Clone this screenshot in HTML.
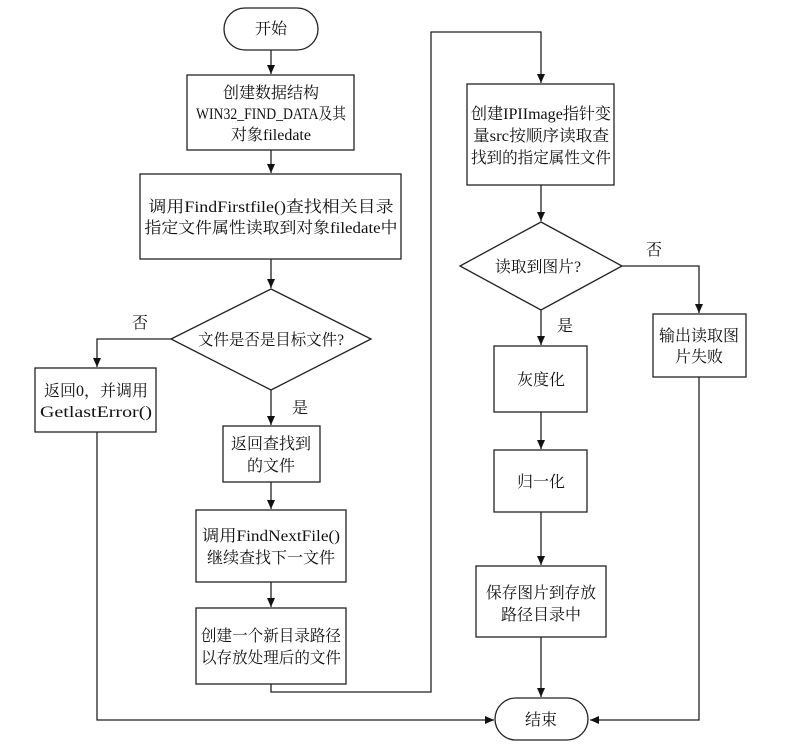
<!DOCTYPE html>
<html><head><meta charset="utf-8"><style>
html,body{margin:0;padding:0;background:#fff;}
svg{display:block;}
text{font-family:"Liberation Serif","Noto Serif CJK SC",serif;font-size:16px;fill:#111;text-anchor:middle;}
.b{fill:#fff;stroke:#222;stroke-width:1.3;}
.l{fill:none;stroke:#222;stroke-width:1.3;}
</style></head><body>
<svg width="793" height="744" viewBox="0 0 793 744" xmlns="http://www.w3.org/2000/svg">
<defs><marker id="a" markerWidth="10" markerHeight="10" refX="9" refY="5" orient="auto" markerUnits="userSpaceOnUse"><path d="M0,1 L9,5 L0,9 Z" fill="#111"/></marker></defs>
<rect class="b" x="224" y="8" width="94" height="42" rx="21"/>
<text x="271" y="34">开始</text>
<line class="l" x1="271" y1="50" x2="271" y2="74" marker-end="url(#a)"/>
<rect class="b" x="187" y="75" width="167" height="75"/>
<text x="271" y="98">创建数据结构</text>
<text x="271" y="119" textLength="150" lengthAdjust="spacingAndGlyphs">WIN32_FIND_DATA及其</text>
<text x="271" y="140">对象filedate</text>
<line class="l" x1="271" y1="150" x2="271" y2="173" marker-end="url(#a)"/>
<rect class="b" x="140" y="174" width="261" height="85"/>
<text x="271" y="212" textLength="245" lengthAdjust="spacingAndGlyphs">调用FindFirstfile()查找相关目录</text>
<text x="271" y="233" textLength="253" lengthAdjust="spacingAndGlyphs">指定文件属性读取到对象filedate中</text>
<line class="l" x1="271" y1="259" x2="271" y2="288" marker-end="url(#a)"/>
<polygon class="b" points="271,289 371,339 271,390 171,339"/>
<text x="271" y="345" textLength="146" lengthAdjust="spacingAndGlyphs">文件是否是目标文件?</text>
<polyline class="l" points="171,339 97,339 97,367" marker-end="url(#a)"/>
<text x="140" y="328">否</text>
<rect class="b" x="35" y="368" width="121" height="64"/>
<text x="96" y="396" textLength="104" lengthAdjust="spacingAndGlyphs">返回0，并调用</text>
<text x="96" y="417" textLength="112" lengthAdjust="spacingAndGlyphs">GetlastError()</text>
<line class="l" x1="271" y1="390" x2="271" y2="425" marker-end="url(#a)"/>
<text x="300" y="413">是</text>
<rect class="b" x="223" y="426" width="97" height="56"/>
<text x="271" y="449">返回查找到</text>
<text x="271" y="471">的文件</text>
<line class="l" x1="271" y1="482" x2="271" y2="509" marker-end="url(#a)"/>
<rect class="b" x="196" y="510" width="150" height="72"/>
<text x="271" y="541" textLength="138" lengthAdjust="spacingAndGlyphs">调用FindNextFile()</text>
<text x="271" y="563">继续查找下一文件</text>
<line class="l" x1="271" y1="582" x2="271" y2="607" marker-end="url(#a)"/>
<rect class="b" x="196" y="608" width="150" height="76"/>
<text x="271" y="641" textLength="140" lengthAdjust="spacingAndGlyphs">创建一个新目录路径</text>
<text x="271" y="663" textLength="140" lengthAdjust="spacingAndGlyphs">以存放处理后的文件</text>
<polyline class="l" points="271,684 271,692 431,692 431,32 541,32 541,83" marker-end="url(#a)"/>
<rect class="b" x="467" y="84" width="147" height="101"/>
<text x="541" y="119" textLength="140" lengthAdjust="spacingAndGlyphs">创建IPIImage指针变</text>
<text x="541" y="141" textLength="136" lengthAdjust="spacingAndGlyphs">量src按顺序读取查</text>
<text x="541" y="163" textLength="140" lengthAdjust="spacingAndGlyphs">找到的指定属性文件</text>
<line class="l" x1="541" y1="185" x2="541" y2="221" marker-end="url(#a)"/>
<polygon class="b" points="541,222 622,266 541,310 460,266"/>
<text x="538" y="272" textLength="86" lengthAdjust="spacingAndGlyphs">读取到图片?</text>
<polyline class="l" points="622,266 699,266 699,313" marker-end="url(#a)"/>
<text x="654" y="255">否</text>
<rect class="b" x="653" y="314" width="93" height="63"/>
<text x="699" y="341">输出读取图</text>
<text x="699" y="362">片失败</text>
<polyline class="l" points="699,377 699,720 590,720" marker-end="url(#a)"/>
<line class="l" x1="541" y1="310" x2="541" y2="345" marker-end="url(#a)"/>
<text x="565" y="331">是</text>
<rect class="b" x="494" y="346" width="93" height="66"/>
<text x="541" y="385">灰度化</text>
<line class="l" x1="541" y1="412" x2="541" y2="449" marker-end="url(#a)"/>
<rect class="b" x="494" y="450" width="93" height="62"/>
<text x="541" y="487">归一化</text>
<line class="l" x1="541" y1="512" x2="541" y2="565" marker-end="url(#a)"/>
<rect class="b" x="476" y="566" width="130" height="71"/>
<text x="541" y="598" textLength="110" lengthAdjust="spacingAndGlyphs">保存图片到存放</text>
<text x="541" y="620">路径目录中</text>
<line class="l" x1="541" y1="637" x2="541" y2="697" marker-end="url(#a)"/>
<polyline class="l" points="97,432 97,720 494,720" marker-end="url(#a)"/>
<rect class="b" x="495" y="698" width="93" height="42" rx="21"/>
<text x="541" y="725">结束</text>
</svg>
</body></html>
